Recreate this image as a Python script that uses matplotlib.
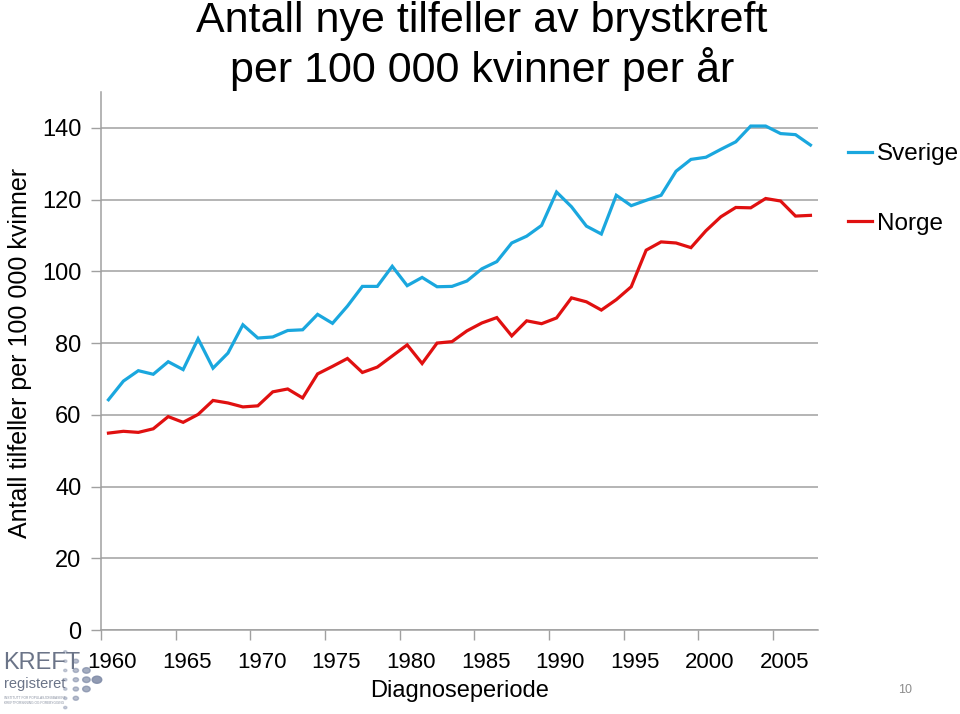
import numpy as np
import matplotlib.pyplot as plt

plt.rcParams['font.family'] = ['Liberation Sans', 'DejaVu Sans']

# år 1960-2007
years = list(range(1960, 2008))

# Antall nye tilfeller per 100 000 kvinner
sverige = [64.2, 69.4, 72.3, 71.3, 74.8, 72.6, 81.2, 73.0, 77.2, 85.1,
           81.4, 81.7, 83.5, 83.7, 88.0, 85.5, 90.3, 95.8, 95.8, 101.4,
           96.0, 98.3, 95.7, 95.8, 97.3, 100.7, 102.7, 107.9, 109.8, 112.8,
           122.1, 118.0, 112.6, 110.4, 121.2, 118.3, 119.8, 121.2, 127.9, 131.2,
           131.8, 134.0, 136.1, 140.5, 140.5, 138.4, 138.1, 135.2]
norge = [54.9, 55.4, 55.1, 56.1, 59.5, 57.9, 60.1, 64.0, 63.3, 62.2,
         62.5, 66.4, 67.2, 64.7, 71.4, 73.5, 75.7, 71.8, 73.3, 76.4,
         79.5, 74.3, 80.0, 80.4, 83.4, 85.6, 87.1, 82.0, 86.2, 85.4,
         87.0, 92.6, 91.5, 89.2, 92.1, 95.7, 105.9, 108.2, 107.9, 106.6,
         111.3, 115.2, 117.8, 117.7, 120.3, 119.6, 115.4, 115.6]

yticks = [0, 20, 40, 60, 80, 100, 120, 140]

blue = '#1AA7DE'
red = '#E01010'
grey = '#A0A0A0'

fig = plt.figure(figsize=(9.6, 7.14), dpi=100)
ax = fig.add_axes([0.1052, 0.1176, 0.7468, 0.7536])

x = np.arange(len(years))
ax.plot(x, sverige, color=blue, lw=2.3, label='Sverige', solid_joinstyle='miter')
ax.plot(x, norge, color=red, lw=2.3, label='Norge', solid_joinstyle='miter')

ax.set_xlim(-0.5, len(years) - 0.5)
ax.set_ylim(0, 150)

# y-akse
ax.set_yticks(yticks)
ax.set_yticklabels([str(v) for v in yticks], fontsize=17)
ax.yaxis.grid(True, color=grey, lw=1.1)
ax.set_axisbelow(True)
ax.tick_params(axis='y', direction='out', length=7, width=1, color=grey, pad=7)

# x-akse: streker mellom kategorier, etiketter midt på
ax.set_xticks(np.arange(-0.5, len(years) - 0.5, 5))
ax.set_xticklabels([])
ax.set_xticks(np.arange(0, len(years), 5) + 0.25, minor=True)
ax.set_xticklabels([str(years[i]) for i in range(0, len(years), 5)], minor=True, fontsize=16)
ax.tick_params(axis='x', which='major', direction='out', length=7, width=1, color=grey)
ax.tick_params(axis='x', which='minor', length=0, pad=16)

for s in ['top', 'right']:
    ax.spines[s].set_visible(False)
for s in ['left', 'bottom']:
    ax.spines[s].set_color(grey)
    ax.spines[s].set_linewidth(1.1)

ax.set_xlabel('Diagnoseperiode', fontsize=17, labelpad=5)
fig.text(0.021, 0.505, 'Antall tilfeller per 100 000 kvinner', rotation=90,
         fontsize=18, ha='center', va='center')

fig.text(0.502, 0.999, 'Antall nye tilfeller av brystkreft\nper 100 000 kvinner per år',
         fontsize=31, ha='center', va='top', linespacing=1.18)

leg = ax.legend(loc='upper left', bbox_to_anchor=(1.042, 0.905), frameon=False,
                fontsize=17.5, handlelength=1.0, handletextpad=0.2, labelspacing=1.96,
                borderaxespad=0, borderpad=0)

# logo og sidetall
fig.text(0.003, 0.071, 'KREFT', fontsize=17, color='#6B7488', ha='left', va='center',
         family=['Liberation Sans Narrow', 'Liberation Sans'], fontweight='light')
fig.text(0.004, 0.042, 'registeret', fontsize=10.5, color='#6B7488', ha='left', va='center',
         family=['Liberation Sans Narrow', 'Liberation Sans'])
fig.text(0.004, 0.019, 'INSTITUTT FOR POPULASJONSBASERT\nKREFTFORSKNING OG FOREBYGGING',
         fontsize=2.3, color='#8890A0', ha='left', va='center')
for col in range(4):
    n = 7 - 2 * col
    for row in range(n):
        yy = 0.048 + (row - (n - 1) / 2) * 0.013
        xx = 0.068 + col * 0.011
        fig.patches.append(plt.Circle((xx, yy), 0.0017 + col * 0.0011,
                                      transform=fig.transFigure, color='#7E8AA6',
                                      alpha=0.4 + 0.15 * col))
fig.text(0.943, 0.034, '10', fontsize=9, color='#8C8C8C', ha='center', va='center')

fig.savefig('out.png', dpi=100)
